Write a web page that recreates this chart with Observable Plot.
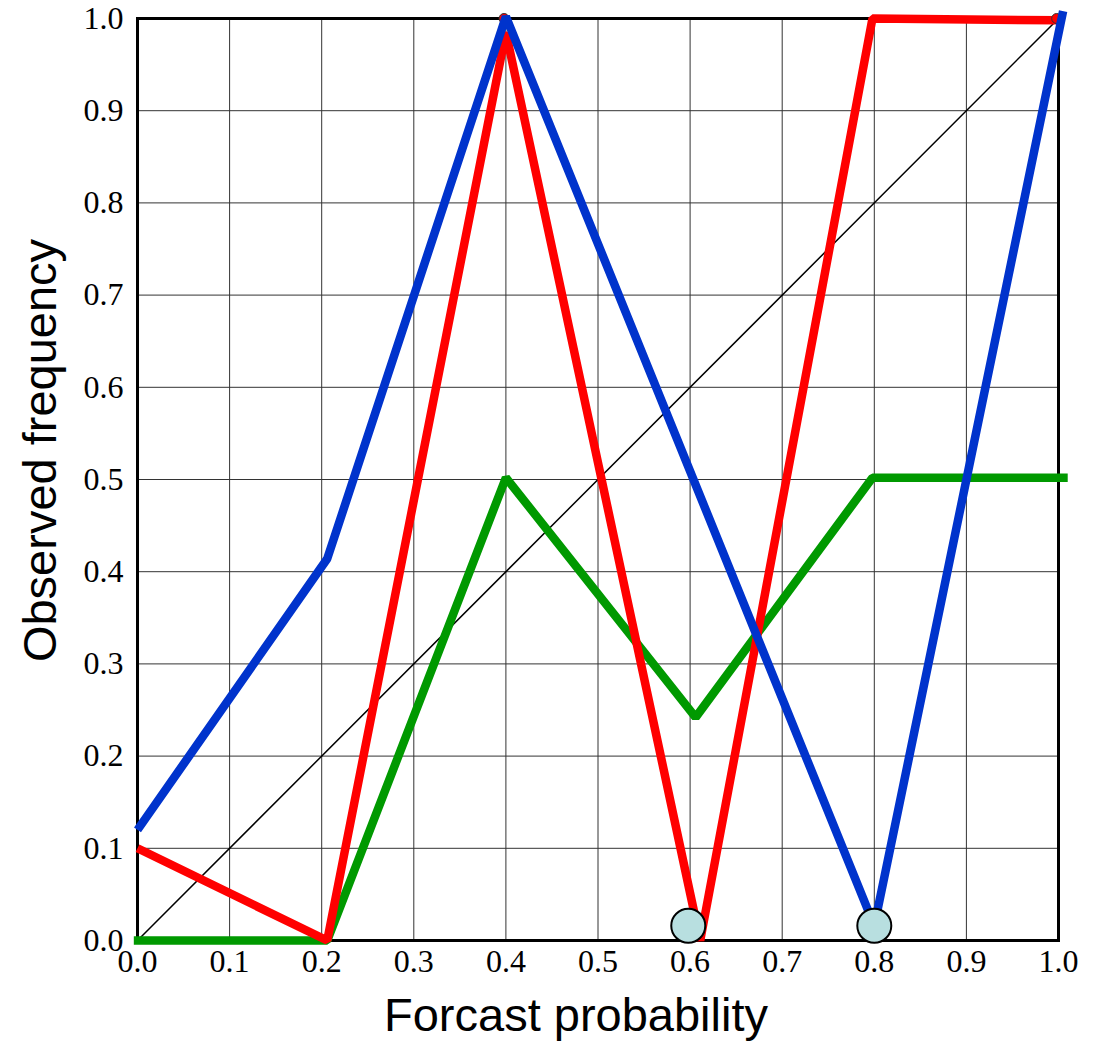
<!DOCTYPE html>
<html>
<head>
<meta charset="utf-8">
<script src="https://cdn.jsdelivr.net/npm/d3@7"></script>
<script src="https://cdn.jsdelivr.net/npm/@observablehq/plot@0.6"></script>
<style>
  html, body { margin: 0; padding: 0; background: #fff; }
  #chart svg { display: block; }
</style>
</head>
<body>
<div id="chart"></div>
<script>
// Tick values
const ticks = [0, 0.1, 0.2, 0.3, 0.4, 0.5, 0.6, 0.7, 0.8, 0.9, 1.0];

// Series (forecast probability -> observed frequency)
const redX = [0.0, 0.206, 0.40, 0.611, 0.798, 1.0];
const redY = [0.1, 0.0, 0.985, 0.0, 1.0, 0.998];

const blueX = [0.0, 0.206, 0.40, 0.80, 1.005];
const blueY = [0.12, 0.414, 1.002, 0.016, 1.008];

const greenX = [-0.004, 0.206, 0.40, 0.606, 0.798, 1.01];
const greenY = [0.0, 0.0, 0.502, 0.242, 0.502, 0.502];

// Perfect-reliability diagonal
const diagX = [0, 1];
const diagY = [0, 1];

// Empty-bin markers
const emptyX = [0.598, 0.8];
const emptyY = [0.016, 0.016];

// Point markers on the red series
const dotX = [0.398, 0.998];
const dotY = [1.0, 1.0];

const toRows = (xs, ys) => xs.map((x, i) => ({x, y: ys[i]}));
const serif = "'Liberation Serif', 'Times New Roman', serif";
const sans = "'Liberation Sans', Arial, sans-serif";
const fmt = d3.format(".1f");

const chart = Plot.plot({
  width: 1093,
  height: 1042,
  marginLeft: 137,
  marginRight: 35,
  marginTop: 18,
  marginBottom: 102,
  style: {fontFamily: serif, color: "#000", background: "#fff"},
  x: {domain: [0, 1], axis: null},
  y: {domain: [0, 1], axis: null},
  marks: [
    Plot.gridX(ticks, {stroke: "#333", strokeOpacity: 1, strokeWidth: 1}),
    Plot.gridY(ticks, {stroke: "#333", strokeOpacity: 1, strokeWidth: 1}),
    Plot.text(ticks, {x: d => d, frameAnchor: "bottom", lineAnchor: "top", dy: 9, text: fmt, fontSize: 32, fontFamily: serif, fill: "#000"}),
    Plot.text(ticks, {y: d => d, frameAnchor: "left", textAnchor: "end", dx: -14, text: fmt, fontSize: 32, fontFamily: serif, fill: "#000"}),
    Plot.line(toRows(diagX, diagY), {x: "x", y: "y", stroke: "#000", strokeWidth: 1.5}),
    Plot.frame({stroke: "#000", strokeWidth: 3}),
    Plot.line(toRows(greenX, greenY), {x: "x", y: "y", stroke: "#009900", strokeWidth: 8.5, strokeLinejoin: "miter", strokeLinecap: "butt", clip: false}),
    Plot.line(toRows(redX, redY), {x: "x", y: "y", stroke: "#ff0000", strokeWidth: 8.5, strokeLinejoin: "miter", strokeLinecap: "butt", clip: false}),
    Plot.dot(toRows(dotX, dotY), {x: "x", y: "y", r: 5, fill: "#ff0000", stroke: "#333", strokeWidth: 1}),
    Plot.line(toRows(blueX, blueY), {x: "x", y: "y", stroke: "#0033cc", strokeWidth: 8.5, strokeLinejoin: "miter", strokeLinecap: "butt", clip: false}),
    Plot.dot(toRows(emptyX, emptyY), {x: "x", y: "y", r: 17, fill: "#b8dfe0", stroke: "#000", strokeWidth: 2}),
    Plot.text(["Forcast probability"], {frameAnchor: "bottom", dx: -22, dy: 90, fontSize: 47, fontFamily: sans, fill: "#000"}),
    Plot.text(["Observed frequency"], {frameAnchor: "left", textAnchor: "middle", dx: -97, dy: -29, rotate: -90, fontSize: 47, fontFamily: sans, fill: "#000"})
  ]
});

document.getElementById("chart").appendChild(chart);
</script>
</body>
</html>
